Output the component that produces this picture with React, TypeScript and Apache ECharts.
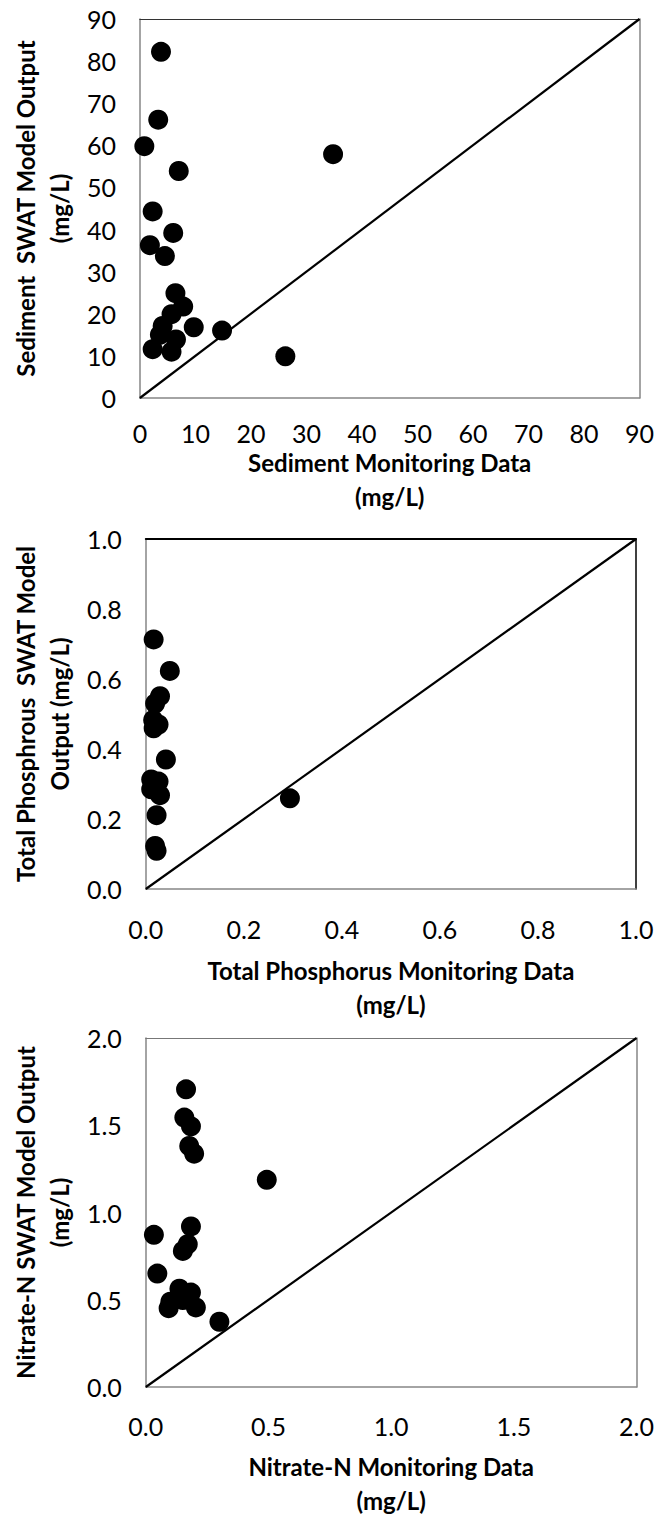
import React, { useEffect, useRef } from "react";
import * as echarts from "echarts";

// Sediment (mg/L)
const SED_OBS = [3.8, 3.3, 0.8, 7.0, 2.3, 6.0, 1.8, 4.5, 6.4, 7.8, 5.7, 4.1, 9.7, 14.8, 3.6, 6.5, 2.3, 5.7, 26.2, 34.8];
const SED_MOD = [82.2, 66.1, 59.8, 53.9, 44.3, 39.2, 36.3, 33.7, 24.9, 21.7, 19.9, 17.1, 16.8, 16.0, 15.0, 13.9, 11.6, 11.0, 9.9, 57.9];

// Total phosphorus (mg/L)
const TP_OBS = [0.016, 0.049, 0.029, 0.019, 0.015, 0.026, 0.016, 0.041, 0.011, 0.026, 0.011, 0.029, 0.022, 0.019, 0.022, 0.294];
const TP_MOD = [0.713, 0.623, 0.551, 0.53, 0.483, 0.47, 0.459, 0.37, 0.313, 0.307, 0.285, 0.268, 0.211, 0.123, 0.109, 0.259];

// Nitrate-N (mg/L)
const NO3_OBS = [0.164, 0.157, 0.184, 0.177, 0.197, 0.493, 0.184, 0.033, 0.171, 0.151, 0.047, 0.137, 0.184, 0.1, 0.151, 0.093, 0.204, 0.3];
const NO3_MOD = [1.706, 1.544, 1.494, 1.381, 1.337, 1.187, 0.92, 0.872, 0.818, 0.78, 0.65, 0.563, 0.541, 0.489, 0.498, 0.452, 0.456, 0.374];

const AXIS_MAX = [90, 1.0, 2.0];
const AXIS_STEP = [10, 0.2, 0.5];
const DECIMALS = [0, 1, 1];
const X_TITLES = ["Sediment Monitoring Data\n(mg/L)", "Total Phosphorus Monitoring Data\n(mg/L)", "Nitrate-N Monitoring Data\n(mg/L)"];
const Y_TITLES = ["Sediment  SWAT Model Output\n(mg/L)", "Total Phosphrous  SWAT Model\nOutput (mg/L)", "Nitrate-N SWAT Model Output\n(mg/L)"];

const FONT = "Lato, 'Open Sans', sans-serif";

export default function App() {
  const ref = useRef<HTMLDivElement>(null);
  useEffect(() => {
    document.body.style.margin = "0";
    document.body.style.overflow = "hidden";
    if (!ref.current) return;
    const chart = echarts.init(ref.current, null, { renderer: "svg" });

    const grids = [
      { left: 133, top: 19, width: 509, height: 379 },
      { left: 132, top: 539, width: 504, height: 350 },
      { left: 140, top: 1038, width: 500, height: 360 },
    ];
    const xLabelMargin = [22, 27, 26];
    const xNameGap = [43, 64, 62];
    const yNameGap = [56, 64, 62];
    const topColor = ["#333", "#000", "#777"];
    const topWidth = [1.2, 2, 1.2];
    const rightColor = ["#868686", "#000", "#868686"];
    const rightWidth = [1.5, 1.5, 1.5];

    const obs = [SED_OBS, TP_OBS, NO3_OBS];
    const mod = [SED_MOD, TP_MOD, NO3_MOD];

    const xAxis: any[] = [];
    const yAxis: any[] = [];
    const series: any[] = [];

    grids.forEach((g, i) => {
      const fmt = (v: number) => v.toFixed(DECIMALS[i]);
      const common = {
        type: "value",
        gridIndex: i,
        min: 0,
        max: AXIS_MAX[i],
        interval: AXIS_STEP[i],
        splitLine: { show: false },
        axisTick: { show: false },
      };
      xAxis.push({
        ...common,
        position: "bottom",
        axisLine: { show: true, lineStyle: { color: "#868686", width: 1.5 } },
        axisLabel: { margin: xLabelMargin[i], fontFamily: FONT, fontSize: 25, color: "#000", formatter: fmt },
        name: X_TITLES[i],
        nameLocation: "middle",
        nameGap: xNameGap[i],
        nameTextStyle: { fontFamily: FONT, fontSize: 24, fontWeight: "bold", color: "#000", lineHeight: 34 },
      });
      xAxis.push({
        ...common,
        position: "top",
        axisLine: { show: true, onZero: false, lineStyle: { color: topColor[i], width: topWidth[i] } },
        axisLabel: { show: false },
      });
      yAxis.push({
        ...common,
        position: "left",
        axisLine: { show: true, lineStyle: { color: "#868686", width: 1.5 } },
        axisLabel: { margin: 24, fontFamily: FONT, fontSize: 25, color: "#000", formatter: fmt },
        name: Y_TITLES[i],
        nameLocation: "middle",
        nameGap: yNameGap[i],
        nameTextStyle: { fontFamily: FONT, fontSize: 24, fontWeight: "bold", color: "#000", lineHeight: 34 },
      });
      yAxis.push({
        ...common,
        position: "right",
        axisLine: { show: true, onZero: false, lineStyle: { color: rightColor[i], width: rightWidth[i] } },
        axisLabel: { show: false },
      });

      series.push({
        type: "line",
        xAxisIndex: i * 2,
        yAxisIndex: i * 2,
        data: [[0, 0], [AXIS_MAX[i], AXIS_MAX[i]]],
        symbol: "none",
        lineStyle: { color: "#000", width: 2.2 },
        silent: true,
      });
      series.push({
        type: "scatter",
        xAxisIndex: i * 2,
        yAxisIndex: i * 2,
        data: obs[i].map((x, k) => [x, mod[i][k]]),
        symbol: "circle",
        symbolSize: 20,
        itemStyle: { color: "#000", opacity: 1 },
      });
    });

    chart.setOption({
      animation: false,
      backgroundColor: "#fff",
      grid: grids,
      xAxis,
      yAxis,
      series,
    });
    return () => chart.dispose();
  }, []);
  return <div ref={ref} style={{ position: "absolute", left: 0, top: 0, width: 657, height: 1518 }} />;
}
